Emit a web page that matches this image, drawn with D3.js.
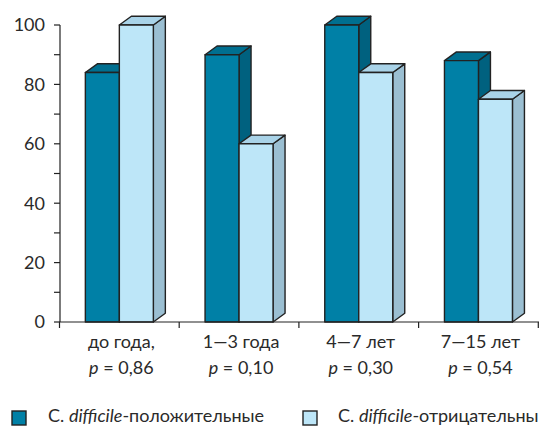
<!DOCTYPE html>
<html><head><meta charset="utf-8">
<script src="https://cdn.jsdelivr.net/npm/d3@7"></script>
<style>html,body{margin:0;padding:0;background:#fff;}svg{display:block;}</style>
</head><body>
<svg id="c" width="539" height="426"></svg>
<script>
const categories = ["до года,", "1—3 года", "4—7 лет", "7—15 лет"];
const pValues = ["0,86", "0,10", "0,30", "0,54"];
const positive = [84, 90, 100, 88];
const negative = [100, 60, 84, 75];
const seriesNames = ["положительные", "отрицательны"];
const yTicks = [0, 20, 40, 60, 80, 100];

const FONT = "Lato, 'Liberation Sans', sans-serif";
const svg = d3.select("#c");
const x = d3.scaleBand().domain(categories).range([59.5, 538.3]).paddingInner(0.432).paddingOuter(0.216);
const inner = d3.scaleBand().domain([0, 1]).range([0, x.bandwidth()]);
const y = d3.scaleLinear().domain([0, 100]).range([322, 25]);
const DX = 12, DY = 8.7;

const colors = [
  {front: "#0080a6", top: "#006f90", side: "#00617f"},
  {front: "#bde6f8", top: "#a9d3e8", side: "#9bbfd2"}
];

const data = categories.map((c, i) => ({c, vals: [positive[i], negative[i]]}));

const g = svg.append("g");
data.forEach(d => {
  d.vals.forEach((v, s) => {
    const x0 = x(d.c) + inner(s), w = inner.bandwidth();
    const yt = y(v), yb = y(0);
    const col = colors[s];
    const bg = g.append("g").attr("stroke", "#222").attr("stroke-width", 1.4).attr("stroke-linejoin", "round");
    bg.append("path").attr("fill", col.side)
      .attr("d", `M${x0+w},${yb} L${x0+w+DX},${yb-DY} L${x0+w+DX},${yt-DY} L${x0+w},${yt} Z`);
    bg.append("path").attr("fill", col.top)
      .attr("d", `M${x0},${yt} L${x0+DX},${yt-DY} L${x0+w+DX},${yt-DY} L${x0+w},${yt} Z`);
    bg.append("rect").attr("fill", col.front).attr("x", x0).attr("y", yt).attr("width", w).attr("height", yb - yt);
  });
});

// y axis
const ya = svg.append("g").attr("stroke", "#222").attr("stroke-width", 1.2);
ya.append("line").attr("x1", 60).attr("x2", 60).attr("y1", y(0)).attr("y2", y(100));
d3.range(0, 101, 10).forEach(t => {
  ya.append("line").attr("x1", 54).attr("x2", 60).attr("y1", y(t)).attr("y2", y(t));
});
svg.append("g").selectAll("text").data(yTicks).join("text")
  .attr("x", 45).attr("y", d => y(d)).attr("dy", "0.36em").attr("text-anchor", "end")
  .attr("font-family", FONT).attr("font-size", 18).attr("fill", "#2a2a2a").text(d => d);

// x axis
const xa = svg.append("g").attr("stroke", "#222").attr("stroke-width", 1.2);
xa.append("line").attr("x1", 59.5).attr("x2", 539).attr("y1", y(0)).attr("y2", y(0));
const bounds = categories.map(c => x(c) - x.step() * x.paddingOuter()).concat([x.range()[1]]);
bounds.forEach(b => xa.append("line").attr("x1", b).attr("x2", b).attr("y1", y(0)).attr("y2", y(0) + 6));

const lab = svg.append("g").attr("font-family", FONT).attr("font-size", 18).attr("fill", "#2a2a2a").attr("text-anchor", "middle");
data.forEach((d, i) => {
  const cx = x(d.c) + x.bandwidth() / 2 + 2;
  lab.append("text").attr("x", cx).attr("y", 348).text(d.c);
  const t = lab.append("text").attr("x", cx).attr("y", 374);
  t.append("tspan").attr("font-style", "italic").text("p");
  t.append("tspan").text(" = " + pValues[i]);
});

// legend
const legX = [12, 303], legTX = [48, 338];
seriesNames.forEach((n, s) => {
  svg.append("rect").attr("x", legX[s]).attr("y", 411).attr("width", 14).attr("height", 14)
    .attr("fill", colors[s].front).attr("stroke", "#222").attr("stroke-width", 1.4);
  const t = svg.append("text").attr("x", legTX[s]).attr("y", 422).attr("font-family", FONT)
    .attr("font-size", 18).attr("fill", "#2a2a2a");
  t.append("tspan").text("C. ");
  t.append("tspan").attr("font-style", "italic").text("difficile");
  t.append("tspan").text("-" + n);
});
</script>
</body></html>
